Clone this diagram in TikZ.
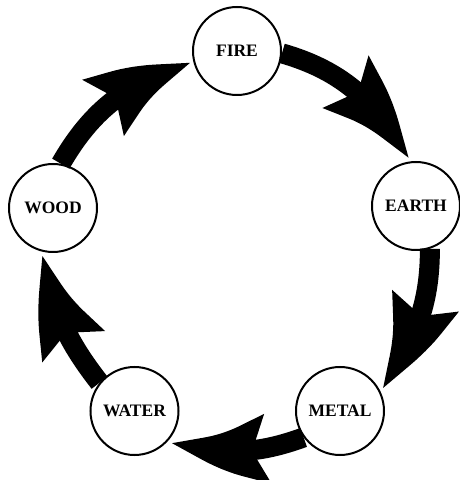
\documentclass[tikz,border=0pt]{standalone}
\usepackage{fontspec}
\setmainfont{Liberation Serif}
\usetikzlibrary{arrows.meta,bending}
\begin{document}
\begin{tikzpicture}[x=1pt,y=1pt,
  elem/.style={circle, draw, line width=2pt, fill=white, minimum size=88pt, inner sep=0pt, font=\fontsize{17.5}{20}\selectfont\bfseries},
  cyc/.style={line width=20pt, -{Stealth[length=110pt,width=64pt,inset=16pt,bend]}}]
\useasboundingbox (0,0) rectangle (460,480);
\node[elem] (fire) at (237,429) {FIRE};
\node[elem] (earth) at (416,274) {EARTH};
\node[elem] (metal) at (340,69) {METAL};
\node[elem] (water) at (134.5,69) {WATER};
\node[elem] (wood) at (53,272) {WOOD};
\draw[cyc] (fire.-3) to[out=-16,in=117] (earth.100);
\draw[cyc] (earth.-72) to[out=-90,in=54] (metal.28);
\draw[cyc] (metal.-144) to[out=200,in=-17] (water.-40);
\draw[cyc] (water.141) to[out=128,in=-82] (wood.-102);
\draw[cyc] (wood.80) to[out=60,in=194] (fire.197);
\end{tikzpicture}
\end{document}
